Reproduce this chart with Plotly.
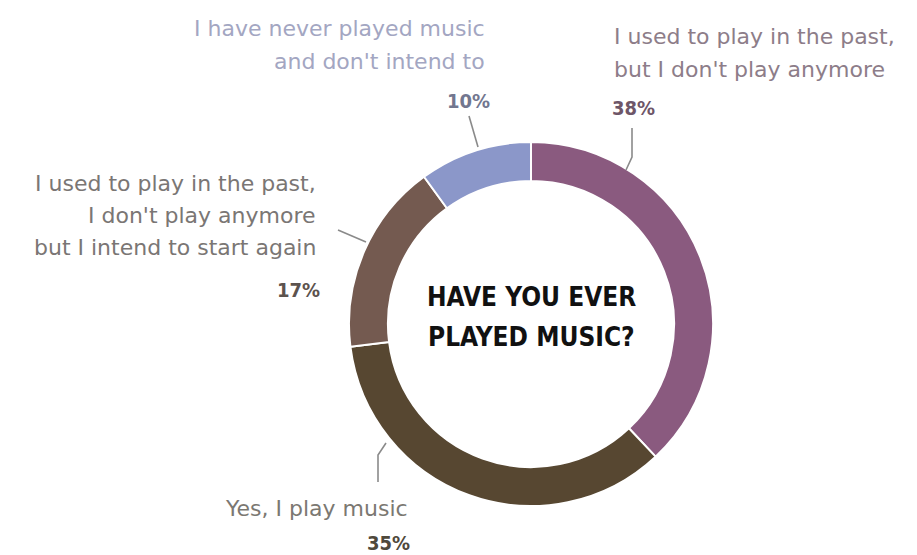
import plotly.graph_objects as go

# Survey answers, shares (%) and slice colours
answers = [
    "I used to play in the past, but I don't play anymore",
    "Yes, I play music",
    "I used to play in the past, I don't play anymore but I intend to start again",
    "I have never played music and don't intend to",
]
shares = [38, 35, 17, 10]
slice_colors = ["#8a5a7f", "#574731", "#745a50", "#8b97c9"]

# Label lines shown next to each slice, and their colours
label_lines = [
    ["I used to play in the past,", "but I don't play anymore"],
    ["Yes, I play music"],
    ["I used to play in the past,", "I don't play anymore", "but I intend to start again"],
    ["I have never played music", "and don't intend to"],
]
label_colors = ["#8d7d89", "#7b7872", "#7a7674", "#a3a6c2"]
pct_colors = ["#6e5668", "#4f493c", "#5c534e", "#72778f"]

W, H = 917, 555
CX, CY, R = 531, 324, 182

fig = go.Figure()
fig.add_trace(go.Pie(
    labels=answers,
    values=shares,
    sort=False,
    direction="clockwise",
    rotation=0,
    hole=0.786,
    marker=dict(colors=slice_colors, line=dict(color="white", width=2)),
    textinfo="none",
    hoverinfo="label+percent",
    showlegend=False,
    domain=dict(x=[(CX - R) / W, (CX + R) / W], y=[1 - (CY + R) / H, 1 - (CY - R) / H]),
))

# Label placement (pixel space): anchor x, alignment, line centres, percentage centre
placements = [
    dict(x=612, px=610, anchor="left", ys=[36, 69], py=108,
         leader=[(632, 128), (632, 157), (626, 170)]),
    dict(x=410, px=412, anchor="right", ys=[508], py=543,
         leader=[(378, 482), (378, 455), (386, 443)]),
    dict(x=318, px=322, anchor="right", ys=[183, 215, 247], py=290,
         leader=[(338, 230), (366, 242)]),
    dict(x=487, px=492, anchor="right", ys=[28, 61], py=101,
         leader=[(469, 116), (478, 147)]),
]

label_font = "DejaVu Sans, Open Sans, sans-serif"
cond_font = "DejaVu Sans Condensed, Roboto, sans-serif"

for lines, share, lc, pc, p in zip(label_lines, shares, label_colors, pct_colors, placements):
    for text, y in zip(lines, p["ys"]):
        fig.add_annotation(x=p["x"], y=y, xref="x", yref="y", text=text, showarrow=False,
                           xanchor=p["anchor"], yanchor="middle",
                           font=dict(family=label_font, size=22, color=lc))
    fig.add_annotation(x=p["px"], y=p["py"], xref="x", yref="y", text=f"<b>{share}%</b>",
                       showarrow=False, xanchor=p["anchor"], yanchor="middle",
                       font=dict(family=cond_font, size=20, color=pc))
    path = "M " + " L ".join(f"{x},{y}" for x, y in p["leader"])
    fig.add_shape(type="path", path=path, xref="x", yref="y",
                  line=dict(color="#8a8a8a", width=1.6))

# Centre question
for text, y in zip(["HAVE YOU EVER", "PLAYED MUSIC?"], [297, 337]):
    fig.add_annotation(x=CX, y=y, xref="x", yref="y", text=f"<b>{text}</b>", showarrow=False,
                       xanchor="center", yanchor="middle",
                       font=dict(family=cond_font, size=26, color="#111111"))

fig.update_layout(
    width=W, height=H,
    margin=dict(l=0, r=0, t=0, b=0),
    paper_bgcolor="white", plot_bgcolor="rgba(0,0,0,0)",
    xaxis=dict(range=[0, W], visible=False, fixedrange=True),
    yaxis=dict(range=[H, 0], visible=False, fixedrange=True),
)

fig.write_html("out.html")
